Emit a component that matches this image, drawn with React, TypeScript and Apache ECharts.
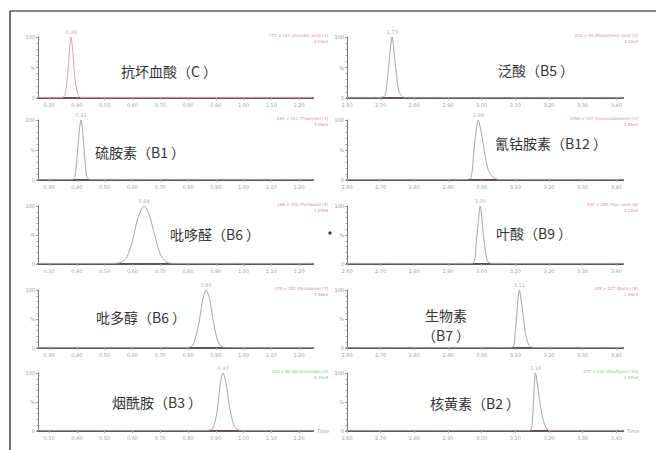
import React, { useEffect, useRef } from "react";
import * as echarts from "echarts";

// Retention-time tick labels for the two columns of chromatograms
const leftTicks = [0.3, 0.4, 0.5, 0.6, 0.7, 0.8, 0.9, 1.0, 1.1, 1.2];
const rightTicks = [2.6, 2.7, 2.8, 2.9, 3.0, 3.1, 3.2, 3.3, 3.4];

// Traces: [time (min), relative intensity (%)]
const vitC = [[0.26, 1], [0.345, 1], [0.357, 4], [0.366, 35], [0.373, 78], [0.379, 100], [0.386, 72], [0.394, 28], [0.403, 6], [0.412, 1], [1.25, 1]];
const vitB1 = [[0.26, 1], [0.385, 1], [0.393, 5], [0.402, 45], [0.409, 85], [0.415, 100], [0.421, 80], [0.428, 38], [0.436, 5], [0.445, 1], [1.25, 1]];
const pyridoxal = [[0.26, 1], [0.53, 1], [0.56, 3], [0.58, 12], [0.6, 40], [0.62, 80], [0.642, 100], [0.66, 86], [0.68, 50], [0.7, 17], [0.72, 4], [0.745, 1], [1.25, 1]];
const pyridoxine = [[0.26, 1], [0.8, 1], [0.818, 5], [0.838, 40], [0.854, 86], [0.865, 100], [0.876, 88], [0.892, 44], [0.907, 12], [0.922, 2], [0.94, 1], [1.25, 1]];
const vitB3 = [[0.26, 1], [0.87, 1], [0.89, 5], [0.905, 35], [0.917, 84], [0.926, 100], [0.936, 85], [0.95, 40], [0.965, 10], [0.98, 2], [1.0, 1], [1.25, 1]];

const vitB5 = [[2.6, 1], [2.7, 1], [2.713, 4], [2.722, 42], [2.734, 100], [2.744, 52], [2.754, 11], [2.765, 2], [2.78, 1], [3.42, 1]];
const vitB12 = [[2.6, 1], [2.95, 1], [2.968, 3], [2.978, 55], [2.99, 100], [3.0, 76], [3.01, 42], [3.02, 16], [3.035, 4], [3.05, 1], [3.42, 1]];
const vitB9 = [[2.6, 1], [2.972, 1], [2.984, 38], [2.996, 100], [3.006, 46], [3.017, 5], [3.03, 1], [3.42, 1]];
const vitB7 = [[2.6, 1], [3.09, 1], [3.1, 30], [3.112, 100], [3.12, 72], [3.13, 26], [3.14, 5], [3.152, 1], [3.42, 1]];
const vitB2 = [[2.6, 1], [3.143, 1], [3.152, 30], [3.16, 100], [3.17, 62], [3.18, 26], [3.19, 7], [3.2, 1], [3.42, 1]];

// Compound names; a name may be split over two lines
const compoundNames: string[][] = [
  ["抗坏血酸（C ）"], ["泛酸（B5 ）"],
  ["硫胺素（B1 ）"], ["氰钴胺素（B12 ）"],
  ["吡哆醛（B6 ）"], ["叶酸（B9 ）"],
  ["吡多醇（B6 ）"], ["生物素", "（B7 ）"],
  ["烟酰胺（B3 ）"], ["核黄素（B2 ）"],
];
const transitions = [
  "177 > 141 (Ascorbic acid) [1]", "220 > 90 (Pantothenic acid) [2]",
  "265 > 122 (Thiamine) [3]", "1356 > 147 (Cyanocobalamin) [4]",
  "168 > 150 (Pyridoxal) [5]", "442 > 295 (Folic acid) [6]",
  "170 > 152 (Pyridoxine) [7]", "245 > 227 (Biotin) [8]",
  "123 > 80 (Nicotinamide) [9]", "377 > 243 (Riboflavin) [10]",
];
const maxIntensity = [
  "2.04e4", "3.12e4", "5.96e4", "2.86e3", "1.07e5",
  "4.22e3", "7.58e4", "1.94e4", "9.31e4", "2.67e4",
];
const traces = [vitC, vitB5, vitB1, vitB12, pyridoxal, vitB9, pyridoxine, vitB7, vitB3, vitB2];

const rowTops = [37, 120, 206, 290, 373];
const rowHeights = [61, 60, 58, 58, 58];

export default function App() {
  const ref = useRef<HTMLDivElement>(null);

  useEffect(() => {
    if (!ref.current) return;
    const chart = echarts.init(ref.current, undefined, { renderer: "svg" });

    const grids: any[] = [];
    const xAxes: any[] = [];
    const yAxes: any[] = [];
    const series: any[] = [];
    const graphics: any[] = [];
    const tinyFont = "DejaVu Sans";

    traces.forEach((trace, i) => {
      const row = Math.floor(i / 2);
      const isLeft = i % 2 === 0;
      const left = isLeft ? 38 : 347;
      const width = isLeft ? 275 : 276;
      const top = rowTops[row];
      const height = rowHeights[row];
      const lastRow = row === 4;
      grids.push({ left, top, width, height, containLabel: false });

      const ticks = isLeft ? leftTicks : rightTicks;
      xAxes.push({
        type: "value",
        gridIndex: i,
        min: isLeft ? 0.26 : 2.6,
        max: isLeft ? 1.25 : 3.42,
        axisLine: { show: true, lineStyle: { color: "#5f5557", width: 2.2 } },
        axisTick: { show: true, customValues: ticks, length: 2, lineStyle: { color: "#aaa" } },
        axisLabel: {
          show: true,
          customValues: ticks,
          formatter: (v: number) => v.toFixed(2),
          fontSize: 5,
          color: "#a0a0a0",
          fontFamily: tinyFont,
          margin: 4,
        },
        splitLine: { show: false },
      });
      yAxes.push({
        type: "value",
        gridIndex: i,
        min: 0,
        max: 100,
        interval: 50,
        axisLine: { show: true, lineStyle: { color: "#7a7a7a", width: 1 } },
        axisTick: { show: true, length: 2, lineStyle: { color: "#999" } },
        minorTick: { show: true, splitNumber: 5, length: 1.5, lineStyle: { color: "#aaa" } },
        axisLabel: {
          fontSize: 5,
          color: "#999",
          fontFamily: tinyFont,
          margin: 3,
          formatter: (v: number) => (v === 100 ? "100" : v === 50 ? "%" : "0"),
        },
        splitLine: { show: false },
      });

      const lineColor = i === 0 ? "#d9a3aa" : "#aaa3a4";
      series.push({
        type: "line",
        xAxisIndex: i,
        yAxisIndex: i,
        data: trace,
        showSymbol: false,
        smooth: 0.25,
        lineStyle: { color: lineColor, width: 1 },
        silent: true,
        z: 3,
      });

      // retention time printed above the apex
      const apex = trace.reduce((a, b) => (b[1] > a[1] ? b : a));
      series.push({
        type: "scatter",
        xAxisIndex: i,
        yAxisIndex: i,
        data: [apex],
        symbolSize: 1,
        itemStyle: { color: "rgba(0,0,0,0)" },
        label: {
          show: true,
          position: "top",
          distance: 2,
          formatter: (p: any) => p.value[0].toFixed(2),
          fontSize: 5,
          color: "#999",
          fontFamily: tinyFont,
        },
        silent: true,
      });

      // channel description in the top-right corner
      const noteColor = lastRow ? "#86b886" : "#d48a96";
      graphics.push({
        type: "text",
        x: left + width + 15,
        y: top - 5,
        style: {
          text: transitions[i] + "\n" + maxIntensity[i],
          align: "right",
          fontSize: 4,
          lineHeight: 6,
          fill: noteColor,
          fontFamily: tinyFont,
        },
      });

      if (lastRow) {
        graphics.push({
          type: "text",
          x: left + width + 4,
          y: top + height - 3,
          style: { text: "Time", fontSize: 5, fill: "#999", fontFamily: tinyFont },
        });
      }
    });

    // compound names
    const namePos: [number, number][] = [
      [169, 71], [536, 70],
      [140, 152], [551, 143],
      [215, 234], [534, 233],
      [141, 317], [446, 315],
      [157, 402], [475, 403],
    ];
    compoundNames.forEach((lines, i) => {
      lines.forEach((line, k) => {
        graphics.push({
          type: "text",
          x: namePos[i][0],
          y: namePos[i][1] + k * 20,
          style: {
            text: line,
            align: "center",
            verticalAlign: "middle",
            fontSize: 14,
            fill: "#333",
            fontFamily: "Noto Sans CJK SC",
          },
        });
      });
    });

    // outer frame: top and left edges
    graphics.push({
      type: "line",
      shape: { x1: 10, y1: 11, x2: 656, y2: 11 },
      style: { stroke: "#111", lineWidth: 1.2 },
    });
    graphics.push({
      type: "line",
      shape: { x1: 10, y1: 11, x2: 10, y2: 450 },
      style: { stroke: "#111", lineWidth: 1.2 },
    });
    graphics.push({
      type: "circle",
      shape: { cx: 330, cy: 233, r: 1.6 },
      style: { fill: "#333" },
    });

    chart.setOption({
      animation: false,
      backgroundColor: "#fff",
      grid: grids,
      xAxis: xAxes,
      yAxis: yAxes,
      series,
      graphic: graphics,
    });

    return () => chart.dispose();
  }, []);

  return (
    <div
      ref={ref}
      style={{ position: "fixed", left: 0, top: 0, width: 656, height: 450, background: "#fff" }}
    />
  );
}
